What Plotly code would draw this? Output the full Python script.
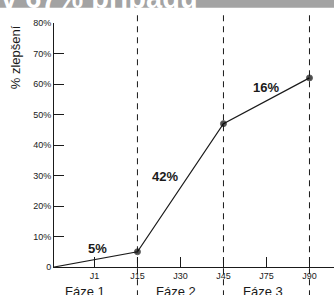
import plotly.graph_objects as go

# data
day_labels = ["J1", "J15", "J30", "J45", "J75", "J90"]
day_pos = [1, 2, 3, 4, 5, 6]
pt_x = [0.06, 2, 4, 6]
pt_y = [0, 5, 47, 62]
gain_labels = ["5%", "42%", "16%"]
gain_x = [1.06, 2.65, 5.0]
gain_y = [6, 29.6, 59]
phase_names = ["Fáze 1", "Fáze 2", "Fáze 3"]
phase_x = [0.78, 2.9, 4.92]
phase_bounds = [2, 4, 6]
y_ticks = [0, 10, 20, 30, 40, 50, 60, 70, 80]
y_tick_text = ["0", "10%", "20%", "30%", "40%", "50%", "60%", "70%", "80%"]

FONT = "Liberation Sans, Arial, sans-serif"
INK = "#1a1a1a"

fig = go.Figure()
fig.add_trace(go.Scatter(
    x=pt_x, y=pt_y, mode="lines+markers",
    line=dict(color=INK, width=1.2),
    marker=dict(color="black", size=[0, 6, 6, 6]),
    cliponaxis=False, showlegend=False, hoverinfo="skip"))

shapes = []
# top gray banner
shapes.append(dict(type="rect", xref="paper", yref="paper", x0=-0.25, x1=1.05,
                   y0=1.062, y1=1.2, fillcolor="#a3a3a3", line=dict(width=0), layer="below"))
for b in phase_bounds:
    shapes.append(dict(type="line", xref="x", yref="paper", x0=b, x1=b, y0=-0.12, y1=1.045,
                       line=dict(color=INK, width=1, dash="6px,5px")))

annotations = []
for t, x, y in zip(gain_labels, gain_x, gain_y):
    annotations.append(dict(x=x, y=y, xref="x", yref="y", text=f"<b>{t}</b>", showarrow=False,
                            font=dict(family=FONT, size=13, color=INK)))
for t, x in zip(phase_names, phase_x):
    annotations.append(dict(x=x, y=-0.101, xref="x", yref="paper", text=t, showarrow=False,
                            xanchor="center", yanchor="middle",
                            font=dict(family=FONT, size=13, color=INK)))
annotations.append(dict(x=-0.139, y=0.86, xref="paper", yref="paper", text="% zlepšení",
                        textangle=-90, showarrow=False, xanchor="center", yanchor="middle",
                        font=dict(family=FONT, size=13, color=INK)))
annotations.append(dict(x=-0.198, y=1.03, xref="paper", yref="paper", text="<b>v 67% případů</b>",
                        xanchor="left", yanchor="bottom", showarrow=False,
                        font=dict(family=FONT, size=29, color="white")))

fig.update_layout(
    width=334, height=295,
    margin=dict(l=54, r=0, t=23, b=28),
    paper_bgcolor="white", plot_bgcolor="white",
    shapes=shapes, annotations=annotations,
    xaxis=dict(range=[0.06, 6.57], tickvals=day_pos, ticktext=day_labels,
               showgrid=False, zeroline=False, showline=True, linecolor=INK, linewidth=1,
               ticks="inside", ticklen=10, tickcolor=INK, tickwidth=1,
               tickfont=dict(family=FONT, size=9, color=INK)),
    yaxis=dict(range=[0, 80], tickvals=y_ticks, ticktext=y_tick_text,
               showgrid=False, zeroline=False, showline=True, linecolor=INK, linewidth=1,
               ticks="inside", ticklen=10, tickcolor=INK, tickwidth=1,
               tickfont=dict(family=FONT, size=9, color=INK)),
)
fig.write_html("out.html", config={"displayModeBar": False},
               post_script="document.body.style.margin='0';")
